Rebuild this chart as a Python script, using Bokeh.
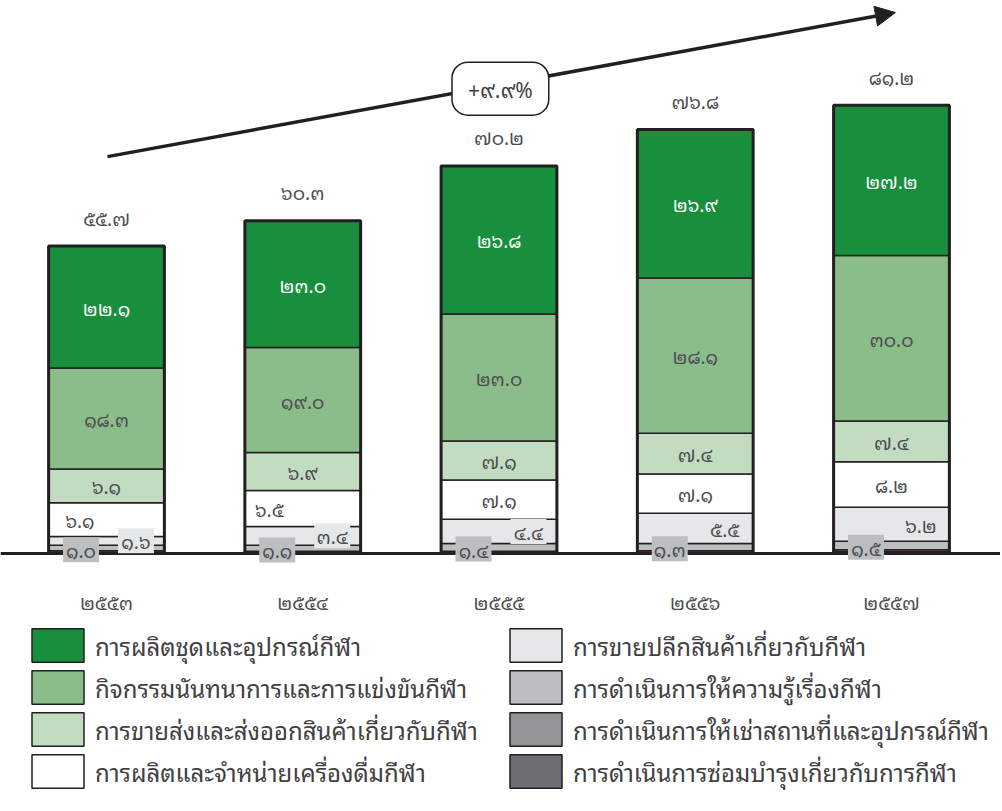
import numpy as np
from bokeh.plotting import figure
from bokeh.models import (ColumnDataSource, Range1d, Span, Arrow, NormalHead,
                          Label, LabelSet, Legend, LegendItem)
from bokeh.core.properties import value
from bokeh.embed import file_html
from bokeh.resources import INLINE

# ---------------- data ----------------
years = ["2553", "2554", "2555", "2556", "2557"]
totals = [55.7, 60.3, 70.2, 76.8, 81.2]
equipment = [22.1, 23.0, 26.8, 26.9, 27.2]
recreation = [18.3, 19.0, 23.0, 28.1, 30.0]
wholesale = [6.1, 6.9, 7.1, 7.4, 7.4]
beverages = [6.1, 6.5, 7.1, 7.1, 8.2]
retail = [1.6, 3.4, 4.4, 5.5, 6.2]
education = [1.0, 1.1, 1.4, 1.3, 1.5]
rental = [0.3, 0.2, 0.2, 0.3, 0.4]
repair = [0.2, 0.2, 0.2, 0.2, 0.3]
growth = "+9.9%"

names = {
    "equipment": "การผลิตชุดและอุปกรณ์กีฬา",
    "recreation": "กิจกรรมนันทนาการและการแข่งขันกีฬา",
    "wholesale": "การขายส่งและส่งออกสินค้าเกี่ยวกับกีฬา",
    "beverages": "การผลิตและจำหน่ายเครื่องดื่มกีฬา",
    "retail": "การขายปลีกสินค้าเกี่ยวกับกีฬา",
    "education": "การดำเนินการให้ความรู้เรื่องกีฬา",
    "rental": "การดำเนินการให้เช่าสถานที่และอุปกรณ์กีฬา",
    "repair": "การดำเนินการซ่อมบำรุงเกี่ยวกับการกีฬา",
}

TH = str.maketrans("0123456789", "๐๑๒๓๔๕๖๗๘๙")
def th(s):
    return str(s).translate(TH)

# ---------------- style ----------------
colors = {
    "equipment": "#178f3c", "recreation": "#8abd8a", "wholesale": "#c2dcc2",
    "beverages": "#ffffff", "retail": "#e6e7e8", "education": "#bcbec0",
    "rental": "#939598", "repair": "#6d6e71",
}
INK = "#231f20"
TXT = "#414042"
NUM = "#4d4d4f"
FNAME = "'Noto Sans Thai Looped', 'Noto Sans Thai', 'Noto Sans'"
FONT = value(FNAME)

W, H = 1000, 808
XS = 196.25   # px per category
YS = 5.52     # px per unit
X0 = 106      # px of first category centre
BASE = 553    # baseline px from top of frame

p = figure(width=W, height=H, output_backend="svg", toolbar_location=None,
           x_range=Range1d(-X0 / XS, (W - X0) / XS),
           y_range=Range1d(-(H - BASE) / YS, BASE / YS),
           x_axis_location=None, y_axis_location=None, min_border=0)
p.grid.visible = False
p.outline_line_color = None
p.background_fill_color = "white"

p.add_layout(Span(location=0, dimension="width", line_color=INK, line_width=3,
                  level="underlay"))

x = np.arange(len(years))
order = ["repair", "rental", "education", "retail", "beverages", "wholesale", "recreation", "equipment"]
vals = {"equipment": equipment, "recreation": recreation, "wholesale": wholesale,
        "beverages": beverages, "retail": retail, "education": education,
        "rental": rental, "repair": repair}

BW = 0.59
bottom = np.zeros(len(years))
rends = {}
mids = {}
for k in order:
    v = np.array(vals[k])
    top = bottom + v
    rends[k] = p.vbar(x=x, bottom=bottom, top=top, width=BW, fill_color=colors[k],
                      line_color=INK, line_width=1.5)
    mids[k] = (bottom + top) / 2
    bottom = top

p.vbar(x=x, bottom=0, top=totals, width=BW, fill_color=None, line_color=INK, line_width=3)

def add_labels(xv, yv, texts, color, fs="19px", bg=None):
    src = ColumnDataSource(dict(x=list(xv), y=list(yv), t=texts))
    if bg:
        p.rect(x="x", y="y", width=36, height=25, width_units="screen",
               height_units="screen", source=src, fill_color=bg, line_color=None)
    ls = LabelSet(x="x", y="y", text="t", source=src, text_align="center",
                  text_baseline="middle", text_color=color, text_font=FONT,
                  text_font_size=fs)
    p.add_layout(ls)

add_labels(x, mids["equipment"], [th(v) for v in equipment], "white")
add_labels(x, mids["recreation"], [th(v) for v in recreation], NUM)
add_labels(x, mids["wholesale"], [th(v) for v in wholesale], NUM)
bev_dx = [-0.135, -0.17, 0, 0, 0]
add_labels(x + np.array(bev_dx), mids["beverages"], [th(v) for v in beverages], NUM)
add_labels(x + 0.15, mids["retail"], [th(v) for v in retail], NUM, bg=colors["retail"])
add_labels(x - 0.13, mids["education"] - 0.3, [th(v) for v in education], NUM, bg=colors["education"])

# totals above bars
src_t = ColumnDataSource(dict(x=list(x), y=totals, t=[th(v) for v in totals]))
p.add_layout(LabelSet(x="x", y="y", text="t", source=src_t, y_offset=29,
                      text_align="center", text_baseline="middle", text_color=NUM,
                      text_font=FONT, text_font_size="19px"))
# years below
src_y = ColumnDataSource(dict(x=list(x), y=[0] * len(x), t=[th(v) for v in years]))
p.add_layout(LabelSet(x="x", y="y", text="t", source=src_y, y_offset=-48,
                      text_align="center", text_baseline="middle", text_color=NUM,
                      text_font=FONT, text_font_size="19px"))

# growth arrow
p.add_layout(Arrow(end=NormalHead(size=20, fill_color=INK, line_color=INK),
                   x_start=0.005, y_start=71.9, x_end=4.02, y_end=98.0,
                   line_color=INK, line_width=3.5))
p.add_layout(Label(x=2.007, y=84.2, text=th(growth), text_align="center",
                   text_baseline="middle", text_color=TXT, text_font=FNAME,
                   text_font_size="21px", background_fill_color="white",
                   border_line_color=INK, border_line_width=1.5,
                   padding=dict(left=16, right=16, top=10, bottom=10),
                   border_radius=16))

# legends (legend glyph is drawn at 80% of its box)
def make_legend(keys, xloc):
    lg = Legend(items=[LegendItem(label=names[k], renderers=[rends[k]]) for k in keys],
                location=(xloc, H - 792), orientation="vertical",
                glyph_width=65, glyph_height=42, spacing=-4, label_standoff=5,
                label_text_font=FNAME, label_text_font_size="24px",
                label_text_color=TXT, label_height=34,
                border_line_color=None, background_fill_alpha=0,
                padding=0, margin=0)
    p.add_layout(lg)

make_legend(["equipment", "recreation", "wholesale", "beverages"], 25)
make_legend(["retail", "education", "rental", "repair"], 503)

open("out.html", "w").write(file_html(p, INLINE))
